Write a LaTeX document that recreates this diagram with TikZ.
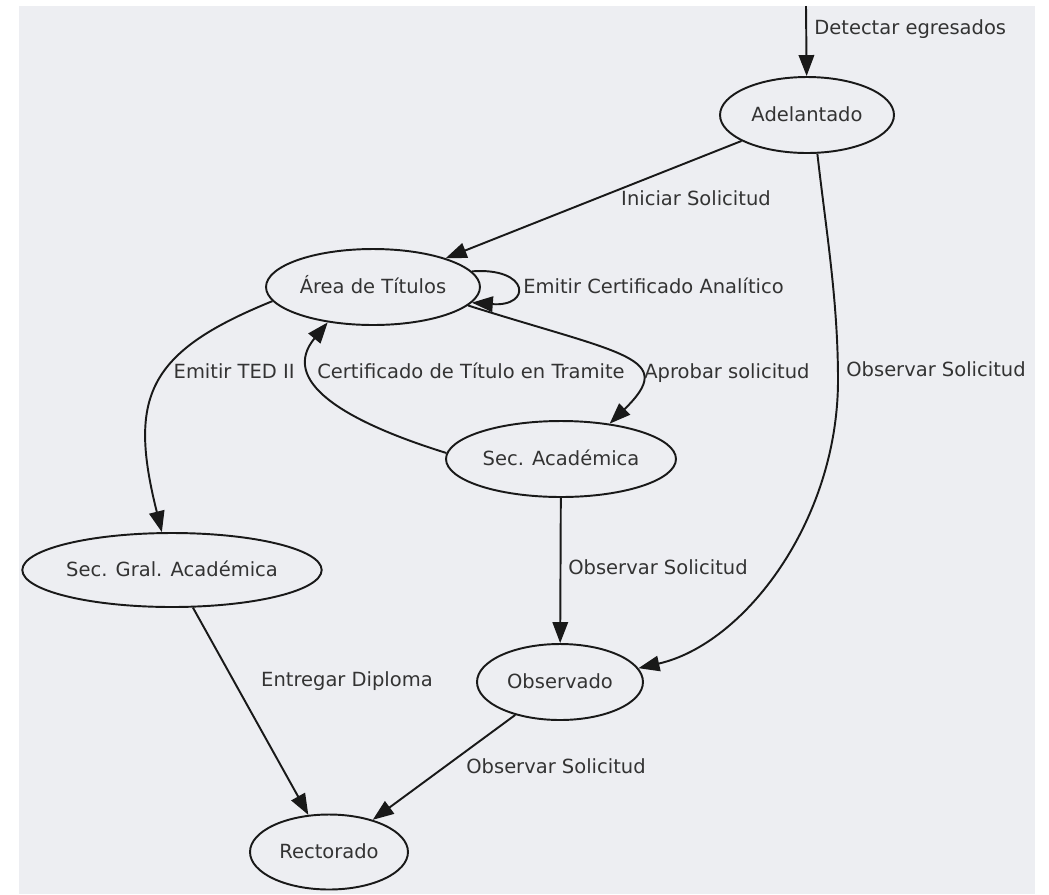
\documentclass[tikz,border=0pt]{standalone}
\usepackage{fontspec}
\setmainfont{DejaVu Sans}
\usetikzlibrary{arrows.meta,shapes.geometric}
\definecolor{fondo}{RGB}{237,238,242}
\definecolor{texto}{RGB}{51,51,51}
\definecolor{linea}{RGB}{25,25,25}

\begin{document}
\begin{tikzpicture}
[x=0.02cm,y=-0.02cm,
 >={Triangle[length=0.42cm,width=0.31cm]},
 every node/.style={font=\fontsize{11.1pt}{13pt}\selectfont,text=texto,text height=0.73em,text depth=0pt},
 n/.style={ellipse,draw=linea,line width=1.1pt,inner sep=0pt,minimum height=1.52cm},
 l/.style={inner sep=0pt},
 e/.style={draw=linea,line width=1.1pt}]
\useasboundingbox (0,0) rectangle (1049,894);
\fill[fondo] (19,6) rectangle (1035,894);
% estados
\node[n,minimum width=3.48cm] (adel) at (807,115) {Adelantado};
\node[n,minimum width=4.28cm] (area) at (373,287) {Área de Títulos};
\node[n,minimum width=4.6cm] (secac) at (561,459) {Sec. Académica};
\node[n,minimum width=5.8cm,minimum height=1.48cm] (secgral) at (172,570) {Sec. Gral. Académica};
\node[n,minimum width=3.32cm] (obs) at (560,682) {Observado};
\node[n,minimum width=3.16cm,minimum height=1.5cm] (rect) at (329,852) {Rectorado};
\coordinate (ini) at (806,6);
% transiciones
\draw[e,->] (ini) -- (adel);
\draw[e,->] (adel) -- (area);
\draw[e,->] (area.9) .. controls (530,267) and (532,307) .. (area.-9);
\draw[e,->] (area.-11) .. controls (625,355) and (678,357) .. (secac.36);
\draw[e,->] (secac.177) .. controls (340,420) and (280,380) .. (area.218);
\draw[e,->] (area.188) .. controls (147,352) and (128,397) .. (secgral.105);
\draw[e,->] (adel.-75) .. controls (826,230) and (838,300) .. (838,380)
  .. controls (838,520) and (745,644) .. (obs.10);
\draw[e,->] (secac) -- (obs);
\draw[e,->] (secgral) -- (rect);
\draw[e,->] (obs) -- (rect);
% etiquetas
\node[l,anchor=west] (tDet) at (814,28) {Detectar egresados};
\node[l] (tIni) at (696,199) {Iniciar Solicitud};
\node[l,anchor=west] (tAna) at (523,287) {Emitir Certificado Analítico};
\node[l,anchor=west] (tApr) at (644,372) {Aprobar solicitud};
\node[l,anchor=west] (tCer) at (317,372) {Certificado de Título en Tramite};
\node[l,anchor=east] (tTed) at (295,372) {Emitir TED II};
\node[l,anchor=west] (tObs1) at (846,370) {Observar Solicitud};
\node[l,anchor=west] (tObs2) at (568,568) {Observar Solicitud};
\node[l] (tEnt) at (347,680) {Entregar Diploma};
\node[l] (tObs3) at (556,767) {Observar Solicitud};
\end{tikzpicture}
\end{document}
